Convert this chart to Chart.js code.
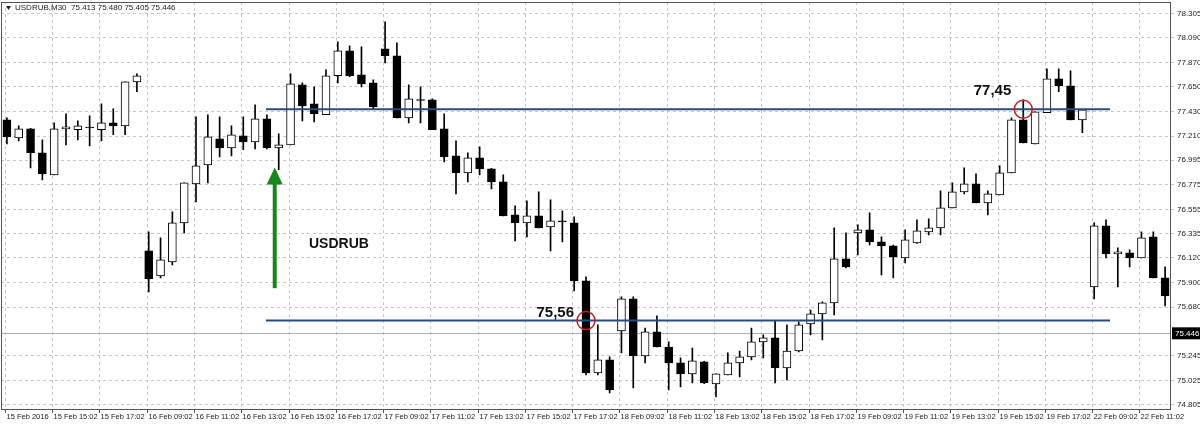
<!DOCTYPE html>
<html>
<head>
<meta charset="utf-8">
<script src="https://cdn.jsdelivr.net/npm/chart.js@4.4.1/dist/chart.umd.min.js"></script>
<style>
  html, body { margin: 0; padding: 0; background: #fff; }
  #wrap { width: 1200px; height: 424px; position: relative; }
</style>
</head>
<body>
<div id="wrap"><canvas id="chart" width="1200" height="424"></canvas></div>
<script>
// USDRUB M30 candles
const openP = [77.356,77.195,77.275,77.061,76.864,77.275,77.267,77.289,77.267,77.329,77.302,77.696,
  76.184,75.960,76.085,76.434,76.783,76.953,77.186,77.105,77.213,77.159,77.365,77.105,77.132,77.669,
  77.499,77.401,77.750,77.974,77.759,77.687,77.991,77.929,77.374,77.535,77.535,77.275,77.034,76.882,
  77.016,76.917,76.801,76.506,76.434,76.497,76.398,76.452,76.434,75.915,75.092,75.208,75.467,75.754,
  75.244,75.459,75.324,75.181,75.083,75.190,74.993,75.074,75.181,75.235,75.369,75.405,75.136,75.288,
  75.530,75.620,75.718,76.112,76.345,76.372,76.264,76.228,76.121,76.255,76.354,76.389,76.568,76.712,
  76.783,76.613,76.685,76.882,77.356,77.141,77.419,77.723,77.660,77.356,75.862,76.407,76.157,76.166,
  76.121,76.309,75.942];
const highP = [77.374,77.302,77.280,77.177,77.329,77.410,77.347,77.392,77.499,77.454,77.696,77.768,
  76.354,76.300,76.533,76.792,77.383,77.401,77.383,77.302,77.383,77.490,77.401,77.231,77.768,77.687,
  77.651,77.804,78.054,78.018,78.009,77.714,78.233,78.045,77.669,77.651,77.544,77.410,77.168,77.061,
  77.114,76.922,76.864,76.587,76.631,76.712,76.640,76.542,76.488,75.951,75.521,75.235,75.772,75.772,
  75.494,75.602,75.369,75.226,75.315,75.195,75.083,75.271,75.288,75.494,75.432,75.557,75.521,75.548,
  75.655,75.727,76.389,76.345,76.416,76.524,76.309,76.235,76.372,76.461,76.470,76.721,76.792,76.926,
  76.872,76.721,76.944,77.374,77.535,77.428,77.812,77.812,77.794,77.446,76.434,76.461,76.210,76.193,
  76.354,76.354,76.040];
const lowP = [77.141,77.168,76.926,76.819,76.864,77.132,77.177,77.123,77.168,77.222,77.222,77.607,
  75.817,75.942,76.058,76.345,76.622,76.792,77.025,77.034,77.088,77.096,77.096,76.909,77.132,77.347,
  77.338,77.401,77.687,77.741,77.651,77.446,77.866,77.374,77.329,77.329,77.267,76.980,76.694,76.801,
  76.864,76.738,76.497,76.273,76.309,76.389,76.184,76.264,75.825,75.074,75.074,74.913,75.271,74.957,
  75.181,75.324,74.940,74.966,75.002,74.995,74.877,75.074,75.056,75.208,75.226,75.002,75.029,75.280,
  75.432,75.387,75.611,76.031,76.148,76.237,75.969,75.942,76.076,76.250,76.327,76.327,76.568,76.694,
  76.613,76.506,76.685,76.882,77.150,77.141,77.419,77.607,77.356,77.240,75.754,76.121,75.862,76.040,
  76.121,75.942,75.691];
const closeP = [77.204,77.275,77.061,76.873,77.275,77.293,77.302,77.284,77.329,77.302,77.696,77.750,
  75.933,76.103,76.434,76.792,76.944,77.204,77.105,77.222,77.159,77.365,77.105,77.132,77.678,77.481,
  77.410,77.750,77.974,77.750,77.678,77.472,77.929,77.374,77.544,77.530,77.267,77.025,76.882,77.016,
  76.917,76.801,76.497,76.434,76.497,76.389,76.452,76.443,75.915,75.092,75.208,74.940,75.754,75.244,
  75.459,75.324,75.181,75.083,75.199,75.002,75.083,75.181,75.235,75.369,75.405,75.136,75.288,75.521,
  75.620,75.718,76.112,76.040,76.372,76.264,76.228,76.130,76.282,76.363,76.389,76.568,76.712,76.783,
  76.613,76.694,76.882,77.356,77.150,77.428,77.723,77.660,77.356,77.446,76.407,76.157,76.175,76.121,
  76.300,75.942,75.781];

const timeLabels = ["15 Feb 2016","15 Feb 15:02","15 Feb 17:02","16 Feb 09:02","16 Feb 11:02",
  "16 Feb 13:02","16 Feb 15:02","16 Feb 17:02","17 Feb 09:02","17 Feb 11:02","17 Feb 13:02",
  "17 Feb 15:02","17 Feb 17:02","18 Feb 09:02","18 Feb 11:02","18 Feb 13:02","18 Feb 15:02",
  "18 Feb 17:02","19 Feb 09:02","19 Feb 11:02","19 Feb 13:02","19 Feb 15:02","19 Feb 17:02",
  "22 Feb 09:02","22 Feb 11:02"];
const priceTicks = [78.305,78.090,77.870,77.650,77.430,77.210,76.995,76.775,76.555,76.335,
  76.120,75.900,75.680,75.245,75.025,74.805];
const lastPrice = 75.446;
const headerText = "USDRUB,M30  75.413 75.480 75.405 75.446";

// levels: price, from candle, to candle, label, circle candle
const levelPrices = [77.45, 75.56];
const levelFrom = [22, 22];
const levelTo = [93, 93];
const levelText = ["77,45", "75,56"];
const levelMark = [86, 49];

const LABEL_EVERY = 4;
const FRAME_TOP = 2;
const smallFont = "8px 'Liberation Sans', Arial, sans-serif";
const timeFont = "7.5px 'Liberation Sans', Arial, sans-serif";

const candleLabels = openP.map((_, i) => i % LABEL_EVERY === 0 ? timeLabels[i / LABEL_EVERY] || "" : "");
const bodies = openP.map((o, i) => {
  let lo = Math.min(o, closeP[i]), hi = Math.max(o, closeP[i]);
  if (hi - lo < 0.006) { hi = lo + 0.006; }
  return [lo, hi];
});
const wicks = lowP.map((l, i) => [l, highP[i]]);
const bodyColors = openP.map((o, i) => closeP[i] >= o ? "#ffffff" : "#000000");

const overlay = {
  id: "overlay",
  beforeDatasetsDraw(chart){
    const {ctx, chartArea: a, scales: {x, y}} = chart;
    ctx.save();
    ctx.strokeStyle = "#c8c8c8";
    ctx.lineWidth = 1;
    ctx.setLineDash([3, 3]);
    for (let i = 0; i < candleLabels.length; i += LABEL_EVERY) {
      const px = Math.round(x.getPixelForValue(i) - 2) + 0.5;
      ctx.beginPath(); ctx.moveTo(px, FRAME_TOP); ctx.lineTo(px, a.bottom); ctx.stroke();
    }
    ctx.setLineDash([]);
    const ly = Math.round(y.getPixelForValue(lastPrice)) + 0.5;
    ctx.strokeStyle = "#b0b0b0";
    ctx.beginPath(); ctx.moveTo(a.left, ly); ctx.lineTo(a.right, ly); ctx.stroke();
    ctx.restore();
  },
  afterDatasetsDraw(chart){
    const {ctx, chartArea: a, scales: {x, y}} = chart;
    ctx.save();
    levelPrices.forEach((p, k) => {
      const py = y.getPixelForValue(p);
      ctx.strokeStyle = "#244b8a";
      ctx.lineWidth = 2;
      ctx.beginPath();
      ctx.moveTo(x.getPixelForValue(levelFrom[k]) - 1, py);
      ctx.lineTo(x.getPixelForValue(levelTo[k]) + 4, py);
      ctx.stroke();
      const cx = x.getPixelForValue(levelMark[k]);
      ctx.strokeStyle = "#c81e1e";
      ctx.lineWidth = 1.5;
      ctx.beginPath(); ctx.arc(cx, py, 9, 0, Math.PI * 2); ctx.stroke();
      ctx.fillStyle = "#111";
      ctx.font = "bold 15px 'Liberation Sans', Arial, sans-serif";
      ctx.textAlign = "right";
      ctx.textBaseline = "alphabetic";
      ctx.fillText(levelText[k], cx - 12, py - 4 - (k === 0 ? 10 : 0));
    });
    // green arrow
    const ax = x.getPixelForValue(23) - 4;
    const yTop = y.getPixelForValue(76.93), yBot = y.getPixelForValue(75.85);
    ctx.strokeStyle = "#17871c";
    ctx.fillStyle = "#17871c";
    ctx.lineWidth = 4;
    ctx.beginPath(); ctx.moveTo(ax, yBot); ctx.lineTo(ax, yTop + 14); ctx.stroke();
    ctx.beginPath();
    ctx.moveTo(ax, yTop); ctx.lineTo(ax - 8, yTop + 17); ctx.lineTo(ax + 8, yTop + 17);
    ctx.closePath(); ctx.fill();
    ctx.fillStyle = "#111";
    ctx.font = "bold 14px 'Liberation Sans', Arial, sans-serif";
    ctx.textAlign = "left";
    ctx.fillText("USDRUB", 309, 248);
    // header
    ctx.font = smallFont;
    ctx.fillStyle = "#222";
    ctx.textBaseline = "middle";
    ctx.fillText(headerText, 15, 8);
    ctx.beginPath(); ctx.moveTo(6, 6); ctx.lineTo(11, 6); ctx.lineTo(8.5, 10); ctx.closePath(); ctx.fill();
    // frame
    ctx.strokeStyle = "#555";
    ctx.lineWidth = 1;
    ctx.strokeRect(a.left + 0.5, FRAME_TOP + 0.5, a.right - a.left - 1, a.bottom - FRAME_TOP);
    // time axis
    ctx.font = timeFont;
    ctx.fillStyle = "#222";
    ctx.textBaseline = "top";
    for (let i = 0; i < candleLabels.length; i += LABEL_EVERY) {
      const px = Math.round(x.getPixelForValue(i) - 2) + 0.5;
      ctx.beginPath(); ctx.moveTo(px, a.bottom); ctx.lineTo(px, a.bottom + 4); ctx.stroke();
      ctx.fillText(candleLabels[i], px + 1, a.bottom + 4);
    }
    // last price tag
    const ly = y.getPixelForValue(lastPrice);
    ctx.fillStyle = "#000";
    ctx.fillRect(a.right + 1, ly - 6, 29, 12);
    ctx.fillStyle = "#fff";
    ctx.font = smallFont;
    ctx.textBaseline = "middle";
    ctx.fillText(lastPrice.toFixed(3), a.right + 4, ly);
    ctx.restore();
  }
};

new Chart(document.getElementById("chart"), {
  type: "bar",
  data: {
    labels: candleLabels,
    datasets: [
      { data: bodies, backgroundColor: bodyColors, borderColor: "#000", borderWidth: 1,
        borderSkipped: false, barThickness: 8, grouped: false },
      { data: wicks, backgroundColor: "#000", borderWidth: 0, barThickness: 1, grouped: false }
    ]
  },
  options: {
    responsive: false,
    animation: false,
    layout: { padding: { top: 0, left: 1, right: 0, bottom: 7 } },
    plugins: { legend: { display: false }, tooltip: { enabled: false } },
    scales: {
      x: {
        offset: true,
        grid: { display: false },
        border: { display: false },
        ticks: { display: false }
      },
      y: {
        position: "right",
        min: 74.769, max: 78.358,
        afterBuildTicks: s => { s.ticks = priceTicks.map(v => ({ value: v })); },
        grid: { color: "#c8c8c8", tickLength: 3, drawTicks: true },
        border: { display: false, dash: [3, 3] },
        ticks: {
          color: "#222", padding: 3, font: { family: "Liberation Sans", size: 8 },
          callback: v => Number(v).toFixed(3)
        },
        afterFit: s => { s.width = 29; }
      }
    }
  },
  plugins: [overlay]
});
</script>
</body>
</html>
